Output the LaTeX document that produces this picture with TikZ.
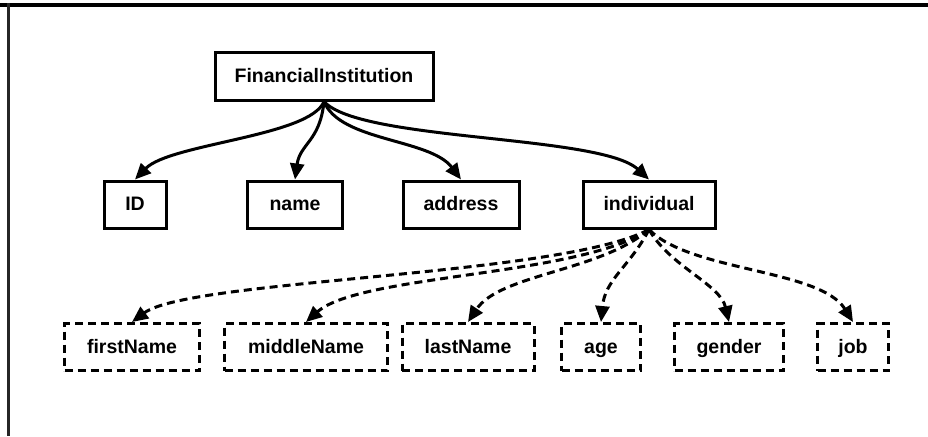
\documentclass[tikz,border=0pt]{standalone}
\usepackage{fontspec}
\setmainfont{Liberation Sans}
\usetikzlibrary{arrows.meta}

\tikzset{
  solidbox/.style={draw, line width=3pt, minimum height=47pt, inner sep=0pt,
                   text height=14pt, text depth=2pt,
                   font=\fontsize{19.5}{22}\selectfont\bfseries},
  dashbox/.style={solidbox, dash pattern=on 8pt off 5pt},
  link/.style={line width=3pt, -{Triangle[length=16pt,width=14pt]}},
  dashlink/.style={link, dash pattern=on 8pt off 5pt}
}

\begin{document}
\begin{tikzpicture}[x=1pt, y=1pt]
		\useasboundingbox (0, 0) rectangle (928, -436);

		% frame
		\draw[line width=4pt] (0, -5) -- (928, -5);
		\draw[line width=3pt, color=black!85] (8, -3) -- (8, -436);

		% root
		\node[solidbox, minimum width=218pt] (fi) at (324, -76.5) {FinancialInstitution};

		% first level
		\node[solidbox, minimum width=62pt]  (id)         at (135, -204.5) {ID};
		\node[solidbox, minimum width=95pt]  (name)       at (295, -204.5) {name};
		\node[solidbox, minimum width=116pt] (address)    at (461, -204.5) {address};
		\node[solidbox, minimum width=132pt] (individual) at (649, -204.5) {individual};

		% second level
		\node[dashbox, minimum width=135pt] (firstname)  at (132, -347) {firstName};
		\node[dashbox, minimum width=163pt] (middlename) at (306, -347) {middleName};
		\node[dashbox, minimum width=132pt] (lastname)   at (468, -347) {lastName};
		\node[dashbox, minimum width=79pt]  (age)        at (601, -347) {age};
		\node[dashbox, minimum width=109pt] (gender)     at (729, -347) {gender};
		\node[dashbox, minimum width=71pt]  (job)        at (853, -347) {job};

		% root -> first level
		\draw[link] (fi.south) .. controls +(-14, -35) and +(35, 36) .. (id.north);
		\draw[link] (fi.south) .. controls +(-4, -40) and +(5, 36) .. (name.north);
		\draw[link] (fi.south) .. controls +(16, -40) and +(-31, 41) .. (address.north);
		\draw[link] (fi.south) .. controls +(36, -40) and +(-49, 45) .. (individual.north);

		% individual -> second level
		\draw[dashlink] (individual.south) .. controls +(-89, -47) and +(58, 43) .. (firstname.north);
		\draw[dashlink] (individual.south) .. controls +(-69, -47) and +(54, 48) .. (middlename.north);
		\draw[dashlink] (individual.south) .. controls +(-49, -42) and +(32, 48) .. (lastname.north);
		\draw[dashlink] (individual.south) .. controls +(-19, -37) and +(4, 43) .. (age.north);
		\draw[dashlink] (individual.south) .. controls +(21, -37) and +(-9, 38) .. (gender.north);
		\draw[dashlink] (individual.south) .. controls +(41, -42) and +(-33, 53) .. (job.north);

	\end{tikzpicture}
\end{document}
